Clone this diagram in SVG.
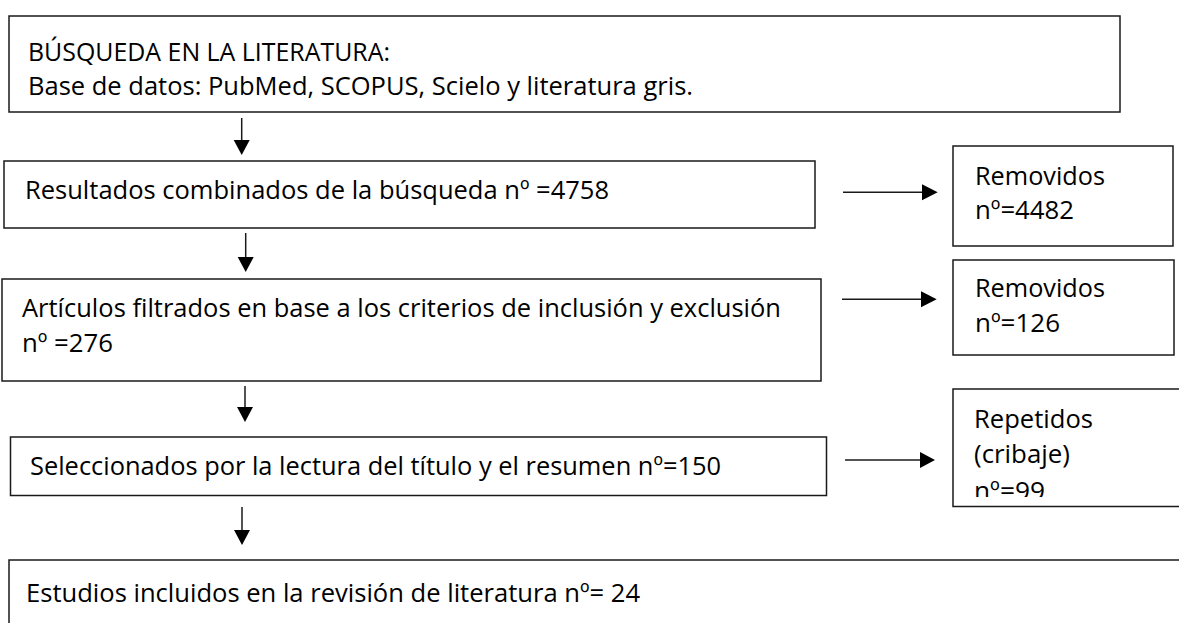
<svg xmlns="http://www.w3.org/2000/svg" width="1179" height="623" viewBox="0 0 1179 623">
<style>
.box{fill:#fff;stroke:#1a1a1a;stroke-width:1.5}
.t{font-family:"Open Sans","Noto Sans","Liberation Sans",sans-serif;font-size:26px;fill:#000;font-variant-ligatures:none}
.s{font-size:25px}
.ln{stroke:#1a1a1a;stroke-width:1.5;fill:none}
.hd{fill:#000}
</style>
<defs>
<clipPath id="clip99"><rect x="953" y="389" width="230" height="108"/></clipPath>
</defs>
<rect width="1179" height="623" fill="#fff"/>
<g id="n-busqueda">
<rect class="box" x="9" y="16" width="1111" height="96"/>
<text class="t s" x="28" y="61" textLength="362" lengthAdjust="spacingAndGlyphs">BÚSQUEDA EN LA LITERATURA:</text>
<text class="t s" x="28" y="95" textLength="665" lengthAdjust="spacingAndGlyphs">Base de datos: PubMed, SCOPUS, Scielo y literatura gris.</text>
</g>
<g id="n-resultados">
<rect class="box" x="4" y="161" width="811" height="67"/>
<text class="t" x="25" y="199" textLength="584" lengthAdjust="spacingAndGlyphs">Resultados combinados de la búsqueda nº =4758</text>
</g>
<g id="n-removidos1">
<rect class="box" x="953" y="146" width="220" height="100"/>
<text class="t" x="975" y="185" textLength="130" lengthAdjust="spacingAndGlyphs">Removidos</text>
<text class="t" x="975" y="219" textLength="99" lengthAdjust="spacingAndGlyphs">nº=4482</text>
</g>
<g id="n-articulos">
<rect class="box" x="2" y="279" width="819" height="102"/>
<text class="t" x="22" y="317" textLength="759" lengthAdjust="spacingAndGlyphs">Artículos filtrados en base a los criterios de inclusión y exclusión</text>
<text class="t" x="22" y="352" textLength="91" lengthAdjust="spacingAndGlyphs">nº =276</text>
</g>
<g id="n-removidos2">
<rect class="box" x="953" y="260" width="221" height="95"/>
<text class="t" x="975" y="297" textLength="130" lengthAdjust="spacingAndGlyphs">Removidos</text>
<text class="t" x="975" y="332" textLength="85" lengthAdjust="spacingAndGlyphs">nº=126</text>
</g>
<g id="n-seleccionados">
<rect class="box" x="10.5" y="437" width="816" height="58.5"/>
<text class="t" x="30" y="475" textLength="691" lengthAdjust="spacingAndGlyphs">Seleccionados por la lectura del título y el resumen nº=150</text>
</g>
<g id="n-repetidos">
<rect class="box" x="953" y="389" width="240" height="117.5"/>
<text class="t" x="974" y="428" textLength="119" lengthAdjust="spacingAndGlyphs">Repetidos</text>
<text class="t" x="974" y="463" textLength="96" lengthAdjust="spacingAndGlyphs">(cribaje)</text>
<g clip-path="url(#clip99)"><text class="t" x="974" y="500" textLength="71" lengthAdjust="spacingAndGlyphs">nº=99</text></g>
</g>
<g id="n-estudios">
<rect class="box" x="9" y="560" width="1190" height="80"/>
<text class="t" x="26" y="602" textLength="614" lengthAdjust="spacingAndGlyphs">Estudios incluidos en la revisión de literatura nº= 24</text>
</g>
<g id="connectors">
<line class="ln" x1="241.7" y1="118" x2="241.7" y2="141"/>
<polygon class="hd" points="233.7,140 249.7,140 241.7,155"/>
<line class="ln" x1="245.7" y1="233" x2="245.7" y2="258"/>
<polygon class="hd" points="237.7,257 253.7,257 245.7,272"/>
<line class="ln" x1="245" y1="386" x2="245" y2="408"/>
<polygon class="hd" points="237,407 253,407 245,422"/>
<line class="ln" x1="242" y1="507" x2="242" y2="531"/>
<polygon class="hd" points="234,530 250,530 242,545"/>
<line class="ln" x1="843" y1="192.3" x2="923" y2="192.3"/>
<polygon class="hd" points="922,184.3 922,200.3 937.7,192.3"/>
<line class="ln" x1="842" y1="299.3" x2="922" y2="299.3"/>
<polygon class="hd" points="921,291.3 921,307.3 936.7,299.3"/>
<line class="ln" x1="845" y1="460" x2="921" y2="460"/>
<polygon class="hd" points="920,452 920,468 935,460"/>
</g>
</svg>
